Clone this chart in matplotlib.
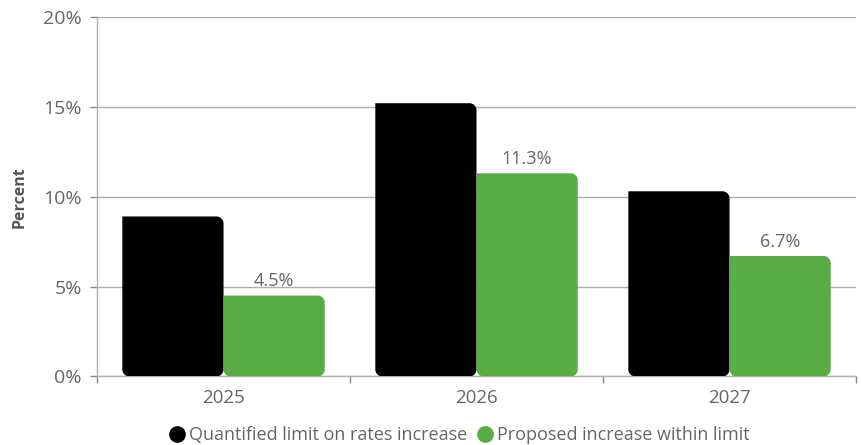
import matplotlib
matplotlib.use("Agg")
import matplotlib.pyplot as plt
from matplotlib.path import Path
from matplotlib.patches import PathPatch
from matplotlib.lines import Line2D
from matplotlib.ticker import FuncFormatter, FixedLocator

plt.rcParams["font.family"] = ["Open Sans", "DejaVu Sans"]

years = ["2025", "2026", "2027"]
limit_values = [8.9, 15.2, 10.3]
proposed_values = [4.5, 11.3, 6.7]
series_names = ["Quantified limit on rates increase", "Proposed increase within limit"]
y_ticks = [0, 5, 10, 15, 20]

BLACK = "#000000"
GREEN = "#5aac44"
TEXT = "#666666"
GRID = "#b0b0b0"

fig = plt.figure(figsize=(8.61, 4.45), dpi=100)
ax = fig.add_axes([0.1127, 0.154, 0.8815, 0.808])
ax.set_xlim(-0.5, 2.5)
ax.set_ylim(0, 20)

# pixel -> data scale factors for round corners
bbox = ax.get_window_extent()
px_x = 3.0 / bbox.width
px_y = 20.0 / bbox.height
radius_px = 7
rx, ry = radius_px * px_x, radius_px * px_y
K = 0.5523


def rounded_bar(x0, width, height, color):
    x1 = x0 + width
    y0, y1 = 0.0, height
    verts = [
        (x0, y0 + ry),
        (x0, y1),
        (x1 - rx, y1),
        (x1 - rx + K * rx, y1), (x1, y1 - ry + K * ry), (x1, y1 - ry),
        (x1, y0 + ry),
        (x1, y0 + ry - K * ry), (x1 - rx + K * rx, y0), (x1 - rx, y0),
        (x0 + rx, y0),
        (x0 + rx - K * rx, y0), (x0, y0 + ry - K * ry), (x0, y0 + ry),
        (x0, y0 + ry),
    ]
    codes = [Path.MOVETO, Path.LINETO, Path.LINETO,
             Path.CURVE4, Path.CURVE4, Path.CURVE4,
             Path.LINETO,
             Path.CURVE4, Path.CURVE4, Path.CURVE4,
             Path.LINETO,
             Path.CURVE4, Path.CURVE4, Path.CURVE4,
             Path.CLOSEPOLY]
    patch = PathPatch(Path(verts, codes), facecolor=color, edgecolor="none", zorder=3)
    ax.add_patch(patch)


bar_w = 0.4
for i, (lim, prop) in enumerate(zip(limit_values, proposed_values)):
    rounded_bar(i - bar_w, bar_w, lim, BLACK)
    rounded_bar(i, bar_w, prop, GREEN)
    ax.text(i + bar_w / 2, prop + 0.3, f"{prop:.1f}%", ha="center", va="bottom",
            fontsize=13, color=TEXT, zorder=4)

# grid and axes styling
ax.yaxis.set_major_locator(FixedLocator(y_ticks))
ax.yaxis.set_major_formatter(FuncFormatter(lambda v, p: f"{v:.0f}%"))
ax.grid(axis="y", color=GRID, linewidth=1.0, zorder=0)
ax.set_axisbelow(True)
for side in ("top", "right"):
    ax.spines[side].set_visible(False)
for side in ("left", "bottom"):
    ax.spines[side].set_color(GRID)
    ax.spines[side].set_linewidth(1.0)
ax.spines["left"].set_zorder(1)

ax.set_xticks(range(len(years)))
ax.set_xticklabels(years)
ax.set_xticks([-0.5, 0.5, 1.5, 2.5], minor=True)
ax.tick_params(axis="x", which="major", length=0, pad=9, labelsize=13.5, labelcolor=TEXT)
ax.tick_params(axis="x", which="minor", length=5, width=1, color="#888888")
ax.tick_params(axis="y", which="major", length=5, width=1, color="#888888",
               pad=6, labelsize=14, labelcolor=TEXT)

ax.set_ylabel("Percent", fontsize=11.5, fontweight="bold", color="#555555", labelpad=11)

handles = [
    Line2D([], [], linestyle="none", marker="o", markersize=11, color=BLACK),
    Line2D([], [], linestyle="none", marker="o", markersize=11, color=GREEN),
]
leg = fig.legend(handles, series_names, loc="lower center", bbox_to_anchor=(0.533, -0.035),
                 ncol=2, frameon=False, fontsize=13, handletextpad=0.15,
                 columnspacing=0.5, handlelength=1.0)
for t in leg.get_texts():
    t.set_color(TEXT)

fig.savefig("out.png", dpi=100)
